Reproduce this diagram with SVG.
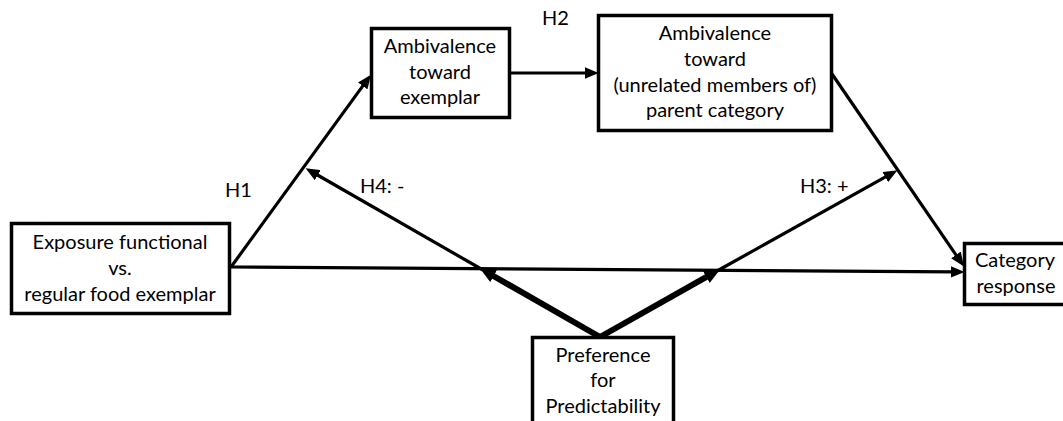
<svg xmlns="http://www.w3.org/2000/svg" width="1063" height="421" viewBox="0 0 1063 421">
<style>
.box{fill:#fff;stroke:#000;stroke-width:3.5}
.t{font-family:Lato,"Liberation Sans",sans-serif;font-size:20px;fill:#000;text-anchor:middle}
.lbl{font-family:Lato,"Liberation Sans",sans-serif;font-size:20px;fill:#000}
.c{stroke:#000;stroke-width:3.2;fill:none;marker-end:url(#ah)}
.ck{stroke:#000;stroke-width:6;fill:none;marker-end:url(#ahk)}
</style>
<defs>
<marker id="ah" markerUnits="userSpaceOnUse" markerWidth="14" markerHeight="12" refX="2" refY="5" orient="auto" viewBox="0 0 12 10">
<path d="M0,0 L12,5 L0,10 z" fill="#000"/>
</marker>
<marker id="ahk" markerUnits="userSpaceOnUse" markerWidth="16" markerHeight="14" refX="2" refY="6" orient="auto" viewBox="0 0 14 12">
<path d="M0,0 L14,6 L0,12 z" fill="#000"/>
</marker>
</defs>
<rect width="1063" height="421" fill="#fff"/>
<g id="connectors">
<line class="c" x1="231" y1="267" x2="364.1" y2="84.1"/>
<line class="c" x1="510" y1="73" x2="587" y2="73"/>
<line class="c" x1="832" y1="74" x2="957.3" y2="256.8"/>
<line class="c" x1="231" y1="267" x2="953" y2="271.9"/>
<line class="c" x1="483" y1="270" x2="315.7" y2="174"/>
<line class="ck" x1="600" y1="337" x2="491.7" y2="275"/>
<line class="c" x1="717" y1="271" x2="887.3" y2="175.9"/>
<line class="ck" x1="600" y1="337" x2="708.3" y2="275.9"/>
</g>
<g id="labels">
<text class="lbl" x="225" y="197">H1</text>
<text class="lbl" x="542" y="25">H2</text>
<text class="lbl" x="360" y="193">H4: -</text>
<text class="lbl" x="800" y="193">H3: +</text>
</g>
<g id="exposure">
<rect class="box" x="11.5" y="223.5" width="218" height="90"/>
<text class="t" x="120" y="249">Exposure functional</text>
<text class="t" x="120" y="275">vs.</text>
<text class="t" x="120" y="301">regular food exemplar</text>
</g>
<g id="ambivalence-exemplar">
<rect class="box" x="371.5" y="28.5" width="138" height="89"/>
<text class="t" x="440" y="53">Ambivalence</text>
<text class="t" x="440" y="79">toward</text>
<text class="t" x="440" y="104">exemplar</text>
</g>
<g id="ambivalence-category">
<rect class="box" x="598.5" y="15.5" width="233" height="115"/>
<text class="t" x="715" y="40">Ambivalence</text>
<text class="t" x="715" y="66">toward</text>
<text class="t" x="715" y="92">(unrelated members of)</text>
<text class="t" x="715" y="117">parent category</text>
</g>
<g id="category-response">
<rect class="box" x="964.5" y="243.5" width="110" height="61"/>
<text class="t" x="1015" y="267">Category</text>
<text class="t" x="1016" y="293">response</text>
</g>
<g id="preference">
<rect class="box" x="532.5" y="337.5" width="141" height="100"/>
<text class="t" x="603" y="362">Preference</text>
<text class="t" x="603" y="387">for</text>
<text class="t" x="603" y="413">Predictability</text>
</g>
</svg>
